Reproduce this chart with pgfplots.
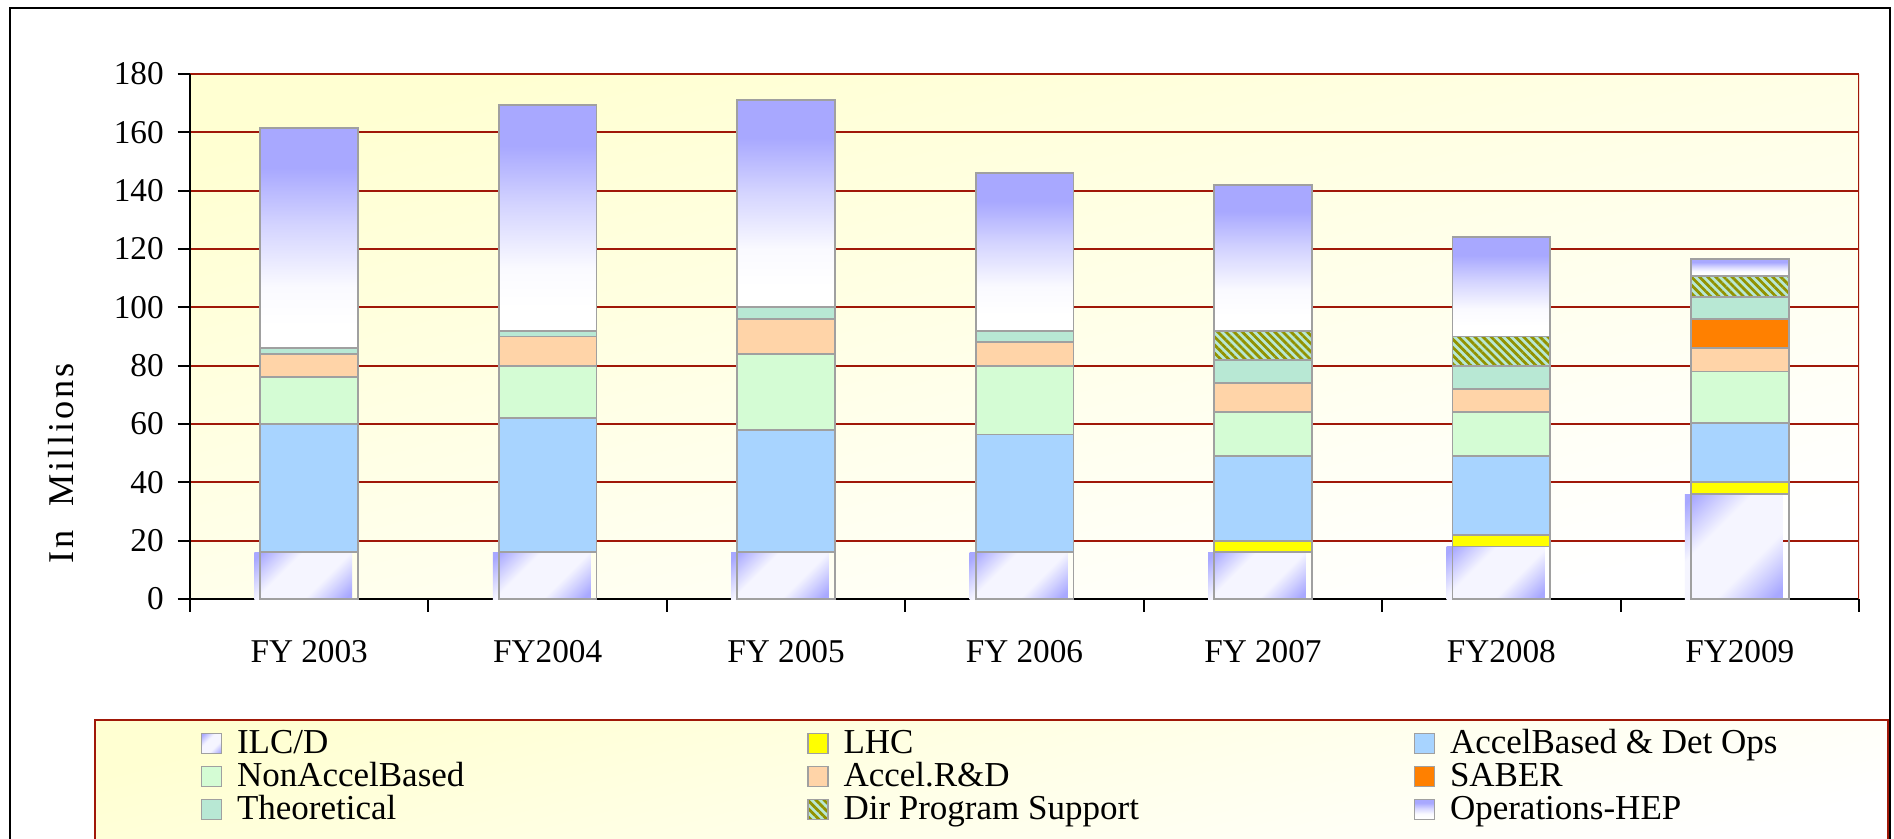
\documentclass[border=0pt]{standalone}
\usepackage{fontspec}
\setmainfont{Liberation Serif}
\usepackage{pgfplots}
\usepackage{pgfplotstable}
\pgfplotsset{compat=1.18}
\usetikzlibrary{patterns.meta}

\definecolor{ilcb}{HTML}{A8A8FF}
\definecolor{opsb}{HTML}{A8A8FF}
\definecolor{lhc}{HTML}{FFFF00}
\definecolor{accb}{HTML}{A8D4FF}
\definecolor{nonacc}{HTML}{D4FCD4}
\definecolor{rnd}{HTML}{FFD4A8}
\definecolor{saber}{HTML}{FF8000}
\definecolor{theo}{HTML}{B8E8D4}
\definecolor{dirfg}{HTML}{929200}
\definecolor{gridred}{HTML}{A01808}
\definecolor{barline}{HTML}{A0A0A0}
\definecolor{bgyel}{HTML}{FFFFD2}
\colorlet{opsA}{white!94!opsb}
\colorlet{opsB}{white!50!opsb}
\colorlet{ilcA}{ilcb!55!white}
\colorlet{ilcB}{ilcb!12!white}

\pgfdeclareverticalshading{opsshade}{100bp}{color(0bp)=(white); color(30bp)=(white); color(39bp)=(opsA); color(53bp)=(opsB); color(66bp)=(opsb); color(100bp)=(opsb)}
\pgfdeclareverticalshading{ilcshade}{100bp}{color(0bp)=(ilcb); color(18bp)=(ilcb); color(28bp)=(ilcA); color(38bp)=(ilcB); color(62bp)=(ilcB); color(72bp)=(ilcA); color(82bp)=(ilcb); color(100bp)=(ilcb)}

\pgfplotstableread{
x ilc lhc ab na rd saber theo dir ops
0 16 0 44 16 8 0 2 0 75.5
1 16 0 46 18 10 0 2 0 77.3
2 16 0 42 26 12 0 4 0 71
3 16 0 40.4 23.6 8 0 4 0 54
4 16 4 29.1 14.9 10 0 8 10 50
5 18 4 27.1 14.9 8 0 8 10 34
6 36 4 20.3 17.7 8 10 7.5 7.3 5.7
}\datatable

\newcommand{\lgbox}[1]{\makebox[230pt][l]{\hspace*{4pt}\strut #1}}
\newcommand{\lgend}[1]{\hspace*{4pt}\strut #1}

\pgfplotsset{
  ovl/.style={at={(76pt,95.6pt)}, anchor=south west,
    scale only axis, width=667.6pt, height=210pt,
    xmin=-0.5, xmax=6.5, ymin=0, ymax=180, hide axis,
    bar width=0.41},
}
% ILC/D bar of one category: the picture fill is offset left of its outline
\newcommand{\ilcbar}[2]{%
\begin{axis}[ovl, ybar, bar shift=0pt]
\addplot[shading=ilcshade, shading angle=45, draw=none, bar shift=-2.4pt] coordinates {(#1,#2)};
\addplot[fill=none, draw=barline, line width=0.7pt] coordinates {(#1,#2)};
\end{axis}}
% Operations-HEP bar of one category, stacked on the top of the lower segments
\newcommand{\opsbar}[3]{%
\begin{axis}[ovl, ybar stacked]
\addplot[draw=none, fill=none] coordinates {(#1,#2)};
\addplot[shading=opsshade, draw=barline, line width=0.7pt] coordinates {(#1,#3)};
\end{axis}}

\begin{document}
\begin{tikzpicture}[font=\fontsize{13.3}{13.4}\selectfont]
\useasboundingbox (0,0) rectangle (757.6pt,335.2pt);
\clip (0,0) rectangle (757.6pt,335.2pt);
\fill[white] (0,0) rectangle (757.6pt,335.2pt);
\draw[black, line width=0.9pt] (4pt,-5pt) rectangle (756pt,332.1pt);
\draw[gridred, line width=0.7pt, shading=axis, top color=bgyel, bottom color=white, shading angle=15] (38pt,-5pt) rectangle (755.2pt,47.2pt);
\begin{axis}[
  at={(76pt,95.6pt)}, anchor=south west,
  scale only axis, width=667.6pt, height=210pt,
  ybar stacked, bar width=0.41,
  xmin=-0.5, xmax=6.5, ymin=0, ymax=180,
  xtick={0,...,6},
  xticklabels={FY 2003,FY2004,FY 2005,FY 2006,FY 2007,FY2008,FY2009},
  minor xtick={-0.5,0.5,...,6.5},
  ytick={0,20,...,180},
  axis x line*=bottom, axis y line*=left,
  axis line style={black, line width=0.8pt, -},
  tick align=outside,
  major tick length=5pt, minor tick length=5pt,
  tick style={black, line width=0.8pt},
  major x tick style={draw=none},
  ymajorgrids,
  y grid style={gridred, line width=0.7pt},
  axis background/.style={shading=axis, top color=bgyel, bottom color=white, shading angle=15},
  /pgf/number format/assume math mode=true,
  yticklabel style={xshift=-2pt},
  xticklabel style={yshift=-8pt},
  ylabel={In\ \ Millions},
  ylabel style={at={(axis description cs:-0.077,0.259)}, anchor=center,
    font=\fontsize{14.5}{16}\selectfont\addfontfeature{LetterSpace=8}},
  legend columns=3,
  legend cell align=left,
  legend style={at={(axis description cs:0.006,-0.248)}, anchor=north west,
    draw=none, fill=none, inner sep=0pt, row sep=1.9pt,
    font=\fontsize{14}{13.4}\selectfont,
    nodes={inner ysep=0pt, inner xsep=2pt}},
  legend image code/.code={\draw[#1, draw=barline, line width=0.6pt] (0pt,-4pt) rectangle (8pt,4pt);},
  every axis plot/.append style={draw=barline, line width=0.7pt},
]
\addplot[draw=none, fill=none,
  legend image code/.code={\draw[shading=ilcshade, shading angle=45, draw=barline, line width=0.6pt] (0pt,-4pt) rectangle (8pt,4pt);}]
  table[x=x,y=ilc]{\datatable};
\addlegendentry{\lgbox{ILC/D}}
\addplot[fill=lhc] table[x=x,y=lhc]{\datatable};
\addlegendentry{\lgbox{LHC}}
\addplot[fill=accb] table[x=x,y=ab]{\datatable};
\addlegendentry{\lgend{AccelBased \& Det Ops}}
\addplot[fill=nonacc] table[x=x,y=na]{\datatable};
\addlegendentry{\lgbox{NonAccelBased}}
\addplot[fill=rnd] table[x=x,y=rd]{\datatable};
\addlegendentry{\lgbox{Accel.R\&D}}
\addplot[fill=saber] table[x=x,y=saber]{\datatable};
\addlegendentry{\lgend{SABER}}
\addplot[fill=theo] table[x=x,y=theo]{\datatable};
\addlegendentry{\lgbox{Theoretical}}
\addplot[fill=theo, postaction={pattern={Lines[angle=-45,distance=2.3pt,line width=1.1pt]}, pattern color=dirfg}] table[x=x,y=dir]{\datatable};
\addlegendentry{\lgbox{Dir Program Support}}
\addplot[draw=none, fill=none,
  legend image code/.code={\draw[shading=opsshade, draw=barline, line width=0.6pt] (0pt,-4pt) rectangle (8pt,4pt);}]
  table[x=x,y=ops]{\datatable};
\addlegendentry{\lgend{Operations-HEP}}
\draw[gridred, line width=0.7pt] (rel axis cs:1,0) -- (rel axis cs:1,1);
\end{axis}
% per-bar shaded segments (ILC/D at the bottom, Operations-HEP on top)
\ilcbar{0}{16}
\ilcbar{1}{16}
\ilcbar{2}{16}
\ilcbar{3}{16}
\ilcbar{4}{16}
\ilcbar{5}{18}
\ilcbar{6}{36}
\opsbar{0}{86}{75.5}
\opsbar{1}{92}{77.3}
\opsbar{2}{100}{71}
\opsbar{3}{92}{54}
\opsbar{4}{92}{50}
\opsbar{5}{90}{34}
\opsbar{6}{110.8}{5.7}
\end{tikzpicture}
\end{document}
